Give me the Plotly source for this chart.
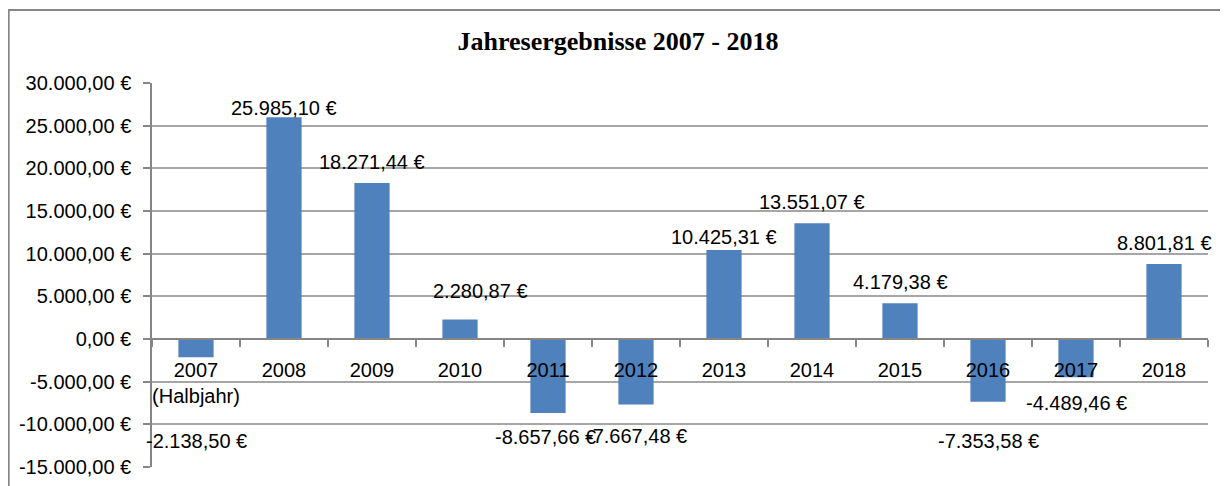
import plotly.graph_objects as go

# ---- data ----
years = ["2007", "2008", "2009", "2010", "2011", "2012",
         "2013", "2014", "2015", "2016", "2017", "2018"]
year_labels = ["2007<br>(Halbjahr)", "2008", "2009", "2010", "2011", "2012",
               "2013", "2014", "2015", "2016", "2017", "2018"]
results = [-2138.50, 25985.10, 18271.44, 2280.87, -8657.66, -7667.48,
           10425.31, 13551.07, 4179.38, -7353.58, -4489.46, 8801.81]
value_texts = ["-2.138,50 €", "25.985,10 €", "18.271,44 €", "2.280,87 €",
               "-8.657,66 €", "-7.667,48 €", "10.425,31 €", "13.551,07 €",
               "4.179,38 €", "-7.353,58 €", "-4.489,46 €", "8.801,81 €"]
y_tick_values = [-15000, -10000, -5000, 0, 5000, 10000, 15000, 20000, 25000, 30000]
y_tick_texts = ["-15.000,00 €", "-10.000,00 €", "-5.000,00 €", "0,00 €", "5.000,00 €",
                "10.000,00 €", "15.000,00 €", "20.000,00 €", "25.000,00 €", "30.000,00 €"]
title_text = "Jahresergebnisse 2007 - 2018"

# ---- label placement (pixel offsets, style only) ----
label_yshift = [-84, 9, 21, 29, -24, -32, 13, 21, 21, -39, -26, 21]
label_xshift = [0, 0, 0, 20, -3, 0, 0, 0, 0, 0, 0, 0]

# page body has an 8px margin -> figure is 8px smaller than the window
W, H = 1220, 478
ML, MR, MT, MB = 144, 20, 75, 19
y_min, y_max = -15000, 30000
zero_frac = (0 - y_min) / (y_max - y_min)
xidx = list(range(len(years)))

FONT = "Liberation Sans"
FS = 20
GRID = "#a6a6a6"
AXIS = "#868686"

fig = go.Figure(go.Bar(
    x=xidx, y=results,
    marker=dict(color="#4F81BD", line=dict(width=0)),
    hovertext=years, hoverinfo="text+y",
))

annotations = []
for i, v, t, dy, dx in zip(xidx, results, value_texts, label_yshift, label_xshift):
    annotations.append(dict(
        x=i, y=v, xref="x", yref="y", text=t, showarrow=False,
        yshift=dy, xshift=dx, xanchor="center", yanchor="middle",
        font=dict(family=FONT, size=FS, color="#000000"),
    ))

pw = W - ML - MR
ph = H - MT - MB
def px_x(p):
    return (p - ML) / pw
def px_y(p):
    return 1 - (p - MT) / ph

shapes = [
    dict(type="line", xref="paper", yref="paper",
         x0=px_x(0), x1=px_x(W + 5), y0=px_y(2), y1=px_y(2),
         line=dict(color="#878787", width=2.2)),
    dict(type="line", xref="paper", yref="paper",
         x0=px_x(0.6), x1=px_x(0.6), y0=px_y(2), y1=px_y(H + 5),
         line=dict(color="#878787", width=2.2)),
]

fig.update_layout(
    width=W, height=H,
    margin=dict(l=ML, r=MR, t=MT, b=MB),
    paper_bgcolor="white", plot_bgcolor="white",
    showlegend=False,
    bargap=0.6,
    title=dict(text="<b>" + title_text + "</b>", x=610 / W, xanchor="center",
               y=1 - 33 / H, yanchor="middle", xref="container", yref="container",
               font=dict(family="Liberation Serif", size=26, color="#000000")),
    xaxis=dict(
        range=[-0.5, len(years) - 0.5], automargin=False,
        tickmode="array", tickvals=xidx, ticktext=year_labels,
        anchor="free", position=zero_frac,
        showline=True, linecolor=AXIS, linewidth=1.5,
        ticks="", showgrid=False, zeroline=False,
        minor=dict(ticks="outside", ticklen=7, tickcolor=AXIS, tickwidth=1.5,
                   tickmode="linear", tick0=-0.5, dtick=1, showgrid=False),
        ticklabelstandoff=13,
        tickfont=dict(family=FONT, size=FS, color="#000000"),
    ),
    yaxis=dict(
        range=[y_min, y_max], automargin=False, tickmode="array",
        tickvals=y_tick_values, ticktext=y_tick_texts,
        showline=True, linecolor=AXIS, linewidth=1.5,
        ticks="outside", ticklen=7, tickcolor=AXIS, tickwidth=1.5,
        showgrid=True, gridcolor=GRID, gridwidth=1.5, zeroline=False,
        ticklabelstandoff=8,
        tickfont=dict(family=FONT, size=FS, color="#000000"),
    ),
    annotations=annotations,
    shapes=shapes,
)

fig.write_html("out.html")
